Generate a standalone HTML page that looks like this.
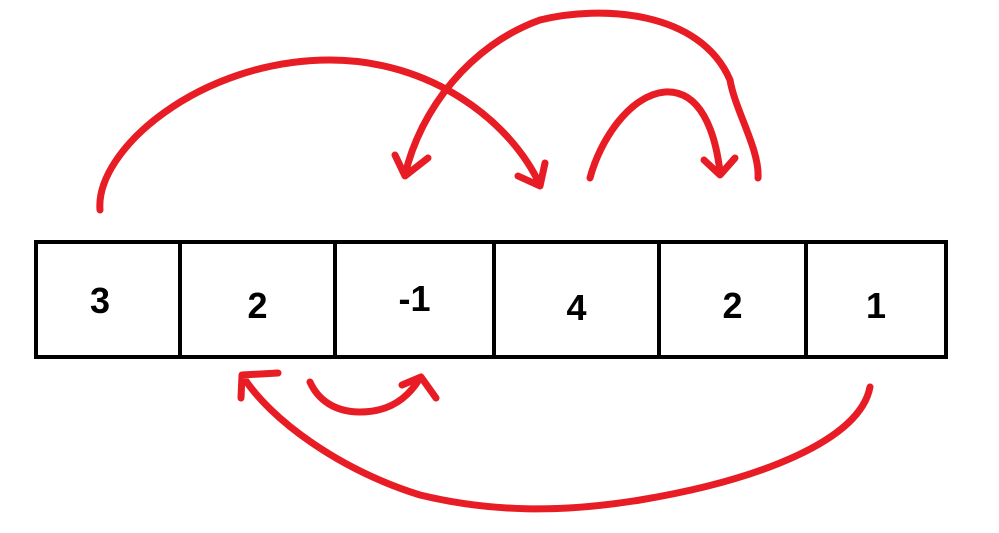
<!DOCTYPE html>
<html><head><meta charset="utf-8">
<style>
html,body{margin:0;padding:0;background:#fff;}
svg{display:block;}
</style></head>
<body>
<svg id="chart" width="999" height="533" viewBox="0 0 999 533" xmlns="http://www.w3.org/2000/svg">
<g id="cells"></g>
<g id="arrows" fill="none" stroke="#e81c24" stroke-width="7" stroke-linecap="round" stroke-linejoin="round">
  <path d="M100,210 C95,150 200,60 330,60 C430,60 510,120 540,185 M518,176 L540,186 L545,163"/>
  <path d="M758,178 C760,150 735,110 730,80 C700,10 600,5 540,20 C470,45 420,110 405,175 M395,155 L405,176 L428,158"/>
  <path d="M590,178 C600,140 630,95 665,92 C700,90 715,130 720,172 M704,160 L720,175 L735,158"/>
  <path d="M310,382 C318,400 335,412 360,412 C390,412 408,398 420,378 M402,385 L421,377 L436,398"/>
  <path d="M870,387 C860,440 760,480 640,500 C560,513 490,512 420,495 C340,470 270,420 242,375 M241,398 L242,375 L278,373"/>
</g>
<script>
const values = ["3", "2", "-1", "4", "2", "1"];
const edges = [36, 180, 335, 494, 659, 806, 946];
const labelDy = [0, 5, -2, 7, 5, 5];
const ns = "http://www.w3.org/2000/svg";
const g = document.getElementById("cells");
values.forEach((v, i) => {
  const r = document.createElementNS(ns, "rect");
  
  
  r.setAttribute("x", edges[i]); r.setAttribute("y", 242);
  r.setAttribute("width", edges[i + 1] - edges[i]); r.setAttribute("height", 115);
  r.setAttribute("fill", "#fff"); r.setAttribute("stroke", "#000"); r.setAttribute("stroke-width", 4);
  g.appendChild(r);
  const t = document.createElementNS(ns, "text");
  
  
  t.setAttribute("x", (edges[i] + edges[i + 1]) / 2 + (i === 0 ? -8 : i === 2 ? 0 : 0));
  t.setAttribute("y", 313 + labelDy[i]);
  t.setAttribute("text-anchor", "middle");
  t.setAttribute("font-family", "Liberation Sans, sans-serif");
  t.setAttribute("font-weight", "bold");
  t.setAttribute("font-size", "36");
  t.textContent = v;
  g.appendChild(t);
});
</script>
</svg>
</body></html>
